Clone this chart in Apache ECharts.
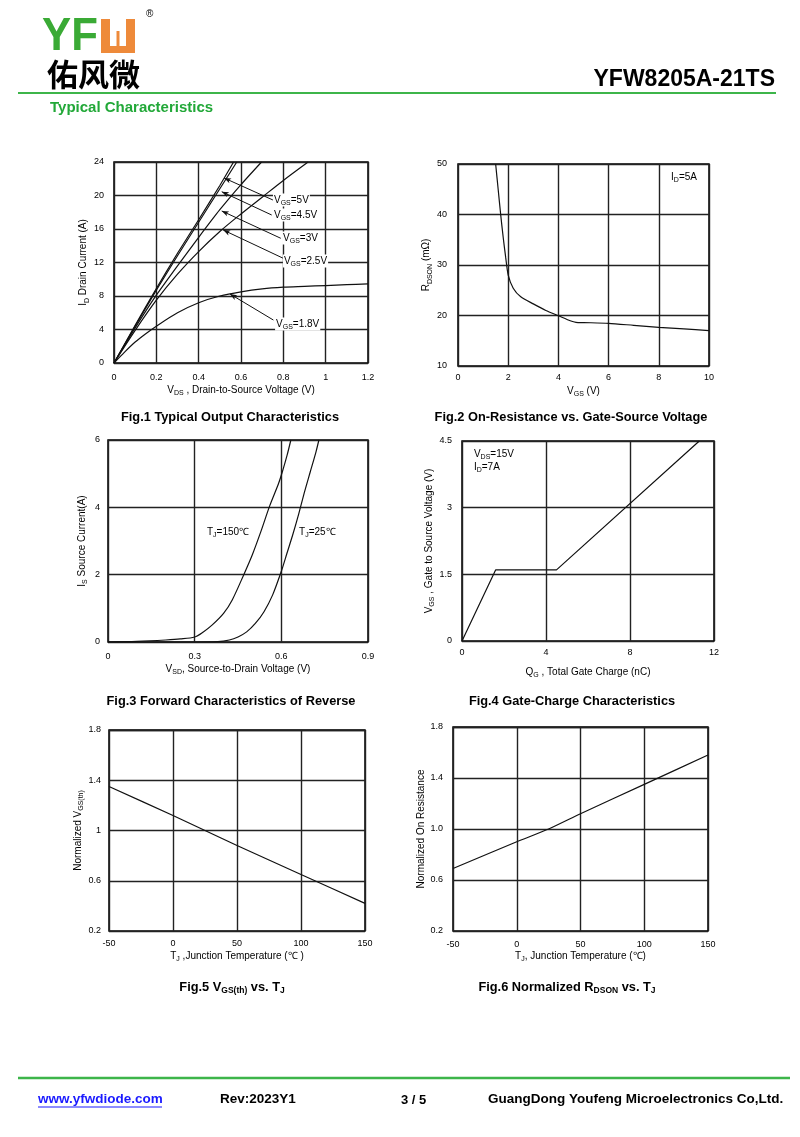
<!DOCTYPE html>
<html><head><meta charset="utf-8">
<script src="https://cdn.jsdelivr.net/npm/echarts@6/dist/echarts.min.js"></script>
<style>html,body{margin:0;padding:0;background:#fff}#c{width:800px;height:1137px}</style>
</head><body><div id="c"></div>
<script>
// ---------- data ----------
const fig1XTicks = ['0','0.2','0.4','0.6','0.8','1','1.2'];
const fig1YTicks = ['0','4','8','12','16','20','24'];
const fig1Vgs5   = [[0,0],[0.1,4.5],[0.2,8.9],[0.3,13.1],[0.4,17.1],[0.5,21.2],[0.565,24]];
const fig1Vgs45  = [[0,0],[0.1,4.4],[0.2,8.7],[0.3,12.8],[0.4,16.8],[0.5,20.8],[0.58,24]];
const fig1Vgs3   = [[0,0],[0.1,4.2],[0.2,8.1],[0.3,11.6],[0.4,15.0],[0.5,18.3],[0.6,21.3],[0.697,24]];
const fig1Vgs25  = [[0,0],[0.1,3.9],[0.2,7.5],[0.3,10.6],[0.4,13.3],[0.5,15.7],[0.6,17.8],[0.7,19.8],[0.8,21.8],[0.917,24]];
const fig1Vgs18  = [[0,0],[0.05,1.3],[0.1,2.5],[0.15,3.5],[0.2,4.4],[0.3,6.0],[0.4,7.2],[0.5,8.0],[0.6,8.5],[0.7,8.85],[0.8,9.05],[0.9,9.15],[1.0,9.25],[1.1,9.35],[1.2,9.45]];

const fig2XTicks = ['0','2','4','6','8','10'];
const fig2YTicks = ['10','20','30','40','50'];
const fig2Rdson  = [[1.5,50],[1.6,45],[1.7,40],[1.8,35.5],[1.9,31.5],[2.0,28],[2.2,25.4],[2.5,23.7],[3,22.3],[3.5,21],[4,19.95],[4.5,18.9],[4.7,18.65],[5,18.6],[6,18.45],[7,18.05],[8,17.65],[9,17.35],[10,17.0]];

const fig3XTicks = ['0','0.3','0.6','0.9'];
const fig3YTicks = ['0','2','4','6'];
const fig3Tj150  = [[0,0],[0.1,0.02],[0.2,0.06],[0.25,0.09],[0.3,0.15],[0.33,0.3],[0.36,0.5],[0.4,0.85],[0.43,1.25],[0.47,2.0],[0.5,2.6],[0.53,3.3],[0.56,4.05],[0.59,4.7],[0.605,5.1],[0.62,5.55],[0.633,6]];
const fig3Tj25   = [[0,0],[0.3,0],[0.38,0.01],[0.42,0.06],[0.45,0.15],[0.48,0.3],[0.51,0.55],[0.54,0.9],[0.57,1.4],[0.6,2.1],[0.62,2.65],[0.64,3.2],[0.66,3.8],[0.68,4.45],[0.7,5.05],[0.72,5.65],[0.73,6]];

const fig4XTicks = ['0','4','8','12'];
const fig4YTicks = ['0','1.5','3','4.5'];
const fig4Vgs    = [[0,0],[1.6,1.6],[4.5,1.6],[11.3,4.5]];

const fig5XTicks = ['-50','0','50','100','150'];
const fig5YTicks = ['0.2','0.6','1','1.4','1.8'];
const fig5Vth    = [[-50,1.35],[0,1.12],[25,1.0],[50,0.88],[100,0.65],[150,0.42]];

const fig6XTicks = ['-50','0','50','100','150'];
const fig6YTicks = ['0.2','0.6','1.0','1.4','1.8'];
const fig6Rdson  = [[-50,0.69],[0,0.9],[25,1.0],[50,1.12],[100,1.35],[150,1.58]];

// ---------- helpers ----------
const F = 'Liberation Sans, Arial, Helvetica, sans-serif';
const richName = {
  a: {fontSize: 10, fontFamily: F, color: '#000', lineHeight: 13},
  s: {fontSize: 7, fontFamily: F, color: '#000', lineHeight: 13, verticalAlign: 'bottom'}
};
const richLbl = {
  a: {fontSize: 10, fontFamily: F, color: '#000', lineHeight: 13},
  s: {fontSize: 7, fontFamily: F, color: '#000', lineHeight: 13, verticalAlign: 'bottom'}
};
function axis(idx, ticks, name, gap, margin) {
  const nums = ticks.map(Number);
  const min = nums[0], max = nums[nums.length - 1];
  const interval = nums[1] - nums[0];
  return {
    type: 'value', gridIndex: idx, min: min, max: max, interval: interval,
    name: name, nameLocation: 'middle', nameGap: gap,
    nameTextStyle: {fontSize: 10, fontFamily: F, color: '#000', rich: richName},
    axisLine: {show: false}, axisTick: {show: false},
    axisLabel: {fontSize: 9, fontFamily: F, color: '#000', margin: margin,
      formatter: v => ticks[Math.round((v - min) / interval)]},
    splitLine: {show: true, lineStyle: {color: '#222', width: 1.4}}
  };
}
function line(idx, data, smooth, extra) {
  return Object.assign({
    type: 'line', xAxisIndex: idx, yAxisIndex: idx, data: data, showSymbol: false,
    smooth: smooth, silent: true, clip: true,
    lineStyle: {color: '#111', width: 1.2}
  }, extra || {});
}
function labels(items) {
  return {
    symbol: 'circle', symbolSize: 0, silent: true, animation: false,
    label: {show: true, position: 'right', distance: 0, color: '#000', backgroundColor: '#fff', padding: [0, 1], rich: richLbl},
    data: items.map(it => ({coord: it[0], label: {formatter: it[1]}}))
  };
}
function txt(x, y, text, size, opts) {
  opts = opts || {};
  return Object.assign({
    type: 'text', x: x, y: y, silent: true,
    style: Object.assign({
      text: text, fill: opts.fill || '#000',
      font: (opts.weight || 'bold') + ' ' + size + 'px ' + (opts.family || F),
      textAlign: opts.align || 'left', align: opts.align || 'left',
      textVerticalAlign: 'middle', verticalAlign: 'middle',
      rich: opts.rich
    }, opts.style || {})
  }, opts.el || {});
}
const capRich = {
  s: {fontSize: 8.5, fontWeight: 'bold', fontFamily: F, fill: '#000', color: '#000', lineHeight: 16, verticalAlign: 'bottom'},
  b: {fontSize: 12.8, fontWeight: 'bold', fontFamily: F, fill: '#000', color: '#000', lineHeight: 16}
};

const gridBase = {show: true, borderColor: '#000', borderWidth: 1.5, containLabel: false};
const option = {
  animation: false,
  backgroundColor: '#fff',
  grid: [
    Object.assign({left: 114, top: 162, width: 254, height: 201}, gridBase),
    Object.assign({left: 458, top: 164, width: 251, height: 202}, gridBase),
    Object.assign({left: 108, top: 440, width: 260, height: 202}, gridBase),
    Object.assign({left: 462, top: 441, width: 252, height: 200}, gridBase),
    Object.assign({left: 109, top: 730, width: 256, height: 201}, gridBase),
    Object.assign({left: 453, top: 727, width: 255, height: 204}, gridBase)
  ],
  xAxis: [
    axis(0, fig1XTicks, '{a|V}{s|DS}{a| , Drain-to-Source Voltage (V)}', 21, 10),
    axis(1, fig2XTicks, '{a|V}{s|GS}{a| (V)}', 19, 7),
    axis(2, fig3XTicks, '{a|V}{s|SD}{a|, Source-to-Drain Voltage (V)}', 21, 10),
    axis(3, fig4XTicks, '{a|Q}{s|G}{a| , Total Gate Charge (nC)}', 25, 7),
    axis(4, fig5XTicks, '{a|T}{s|J}{a| ,Junction Temperature (℃ )}', 19, 8),
    axis(5, fig6XTicks, '{a|T}{s|J}{a|, Junction Temperature (℃)}', 19, 9)
  ],
  yAxis: [
    axis(0, fig1YTicks, '{a|I}{s|D}{a| Drain Current (A)}', 19, 10),
    axis(1, fig2YTicks, '{a|R}{s|DSON}{a| (mΩ)}', 23, 11),
    axis(2, fig3YTicks, '{a|I}{s|S}{a| Source Current(A)}', 19, 8),
    axis(3, fig4YTicks, '{a|V}{s|GS}{a| , Gate to Source Voltage (V)}', 23, 10),
    axis(4, fig5YTicks, '{a|Normalized V}{s|GS(th)}', 16, 8),
    axis(5, fig6YTicks, '{a|Normalized On Resistance}', 18, 10)
  ],
  series: [
    line(0, fig1Vgs5, 0.2, {
      markLine: {
        silent: true, animation: false, symbol: ['none', 'arrow'], symbolSize: [4, 7],
        label: {show: false}, lineStyle: {color: '#111', width: 1, type: 'solid'},
        data: [
          [{coord: [0.751, 19.46]}, {coord: [0.52, 22.09]}],
          [{coord: [0.745, 17.67]}, {coord: [0.509, 20.45]}],
          [{coord: [0.788, 14.89]}, {coord: [0.509, 18.15]}],
          [{coord: [0.80, 12.5]}, {coord: [0.516, 15.88]}],
          [{coord: [0.753, 5.13]}, {coord: [0.548, 8.24]}]
        ]
      },
      markPoint: labels([
        [[0.751, 19.46], '{a|V}{s|GS}{a|=5V}'],
        [[0.751, 17.67], '{a|V}{s|GS}{a|=4.5V}'],
        [[0.794, 14.93], '{a|V}{s|GS}{a|=3V}'],
        [[0.798, 12.18], '{a|V}{s|GS}{a|=2.5V}'],
        [[0.761, 4.66], '{a|V}{s|GS}{a|=1.8V}']
      ])
    }),
    line(0, fig1Vgs45, 0.2),
    line(0, fig1Vgs3, 0.2),
    line(0, fig1Vgs25, 0.3),
    line(0, fig1Vgs18, 0.3),
    line(1, fig2Rdson, 0.25, {markPoint: labels([[[8.45, 47.4], '{a|I}{s|D}{a|=5A}']])}),
    line(2, fig3Tj150, 0.3, {markPoint: labels([[[0.339, 3.27], '{a|T}{s|J}{a|=150℃}'], [[0.658, 3.27], '{a|T}{s|J}{a|=25℃}']])}),
    line(2, fig3Tj25, 0.3),
    line(3, fig4Vgs, false, {markPoint: labels([[[0.52, 4.06], '{a|V}{s|DS}{a|=15V}\n{a|I}{s|D}{a|=7A}']])}),
    line(4, fig5Vth, 0.2),
    line(5, fig6Rdson, 0.2)
  ],
  graphic: [
    // logo
    txt(42, 37, 'YF', 46, {fill: '#3aaa35', el: {scaleX: 0.95}}),
    {type: 'rect', silent: true, shape: {x: 101, y: 19, width: 9, height: 34}, style: {fill: '#ee8a3a'}},
    {type: 'rect', silent: true, shape: {x: 126, y: 19, width: 9, height: 34}, style: {fill: '#ee8a3a'}},
    {type: 'rect', silent: true, shape: {x: 101, y: 46, width: 34, height: 7}, style: {fill: '#ee8a3a'}},
    {type: 'rect', silent: true, shape: {x: 116.5, y: 31, width: 3, height: 16}, style: {fill: '#ee8a3a'}},
    txt(146, 14, '®', 10, {weight: 'normal'}),
    txt(47, 74, '佑风微', 31, {family: 'Noto Sans CJK SC, sans-serif'}),
    txt(775, 80, 'YFW8205A-21TS', 23, {align: 'right'}),
    {type: 'line', silent: true, shape: {x1: 18, y1: 93, x2: 776, y2: 93}, style: {stroke: '#3db54a', lineWidth: 2}},
    txt(50, 108, 'Typical Characteristics', 15, {fill: '#22a838'}),
    // captions
    txt(230, 417, 'Fig.1 Typical Output Characteristics', 12.8, {align: 'center'}),
    txt(571, 417, 'Fig.2 On-Resistance vs. Gate-Source Voltage', 12.8, {align: 'center'}),
    txt(231, 701, 'Fig.3 Forward Characteristics of Reverse', 12.8, {align: 'center'}),
    txt(572, 701, 'Fig.4 Gate-Charge Characteristics', 12.8, {align: 'center'}),
    txt(232, 987, '{b|Fig.5 V}{s|GS(th)}{b| vs. T}{s|J}', 12.8, {align: 'center', rich: capRich}),
    txt(567, 987, '{b|Fig.6 Normalized R}{s|DSON}{b| vs. T}{s|J}', 12.8, {align: 'center', rich: capRich}),
    // footer
    {type: 'line', silent: true, shape: {x1: 18, y1: 1078, x2: 790, y2: 1078}, style: {stroke: '#3db54a', lineWidth: 2.5}},
    txt(38, 1099, 'www.yfwdiode.com', 13.5, {fill: '#1a1aff'}),
    {type: 'line', silent: true, shape: {x1: 38, y1: 1107, x2: 162, y2: 1107}, style: {stroke: '#1a1aff', lineWidth: 1}},
    txt(220, 1099, 'Rev:2023Y1', 13.5),
    txt(401, 1100, '3 / 5', 13),
    txt(488, 1099, 'GuangDong Youfeng Microelectronics Co,Ltd.', 13.5)
  ]
};
const chart = echarts.init(document.getElementById('c'), null, {renderer: 'canvas'});
chart.setOption(option);
</script>
</body></html>
